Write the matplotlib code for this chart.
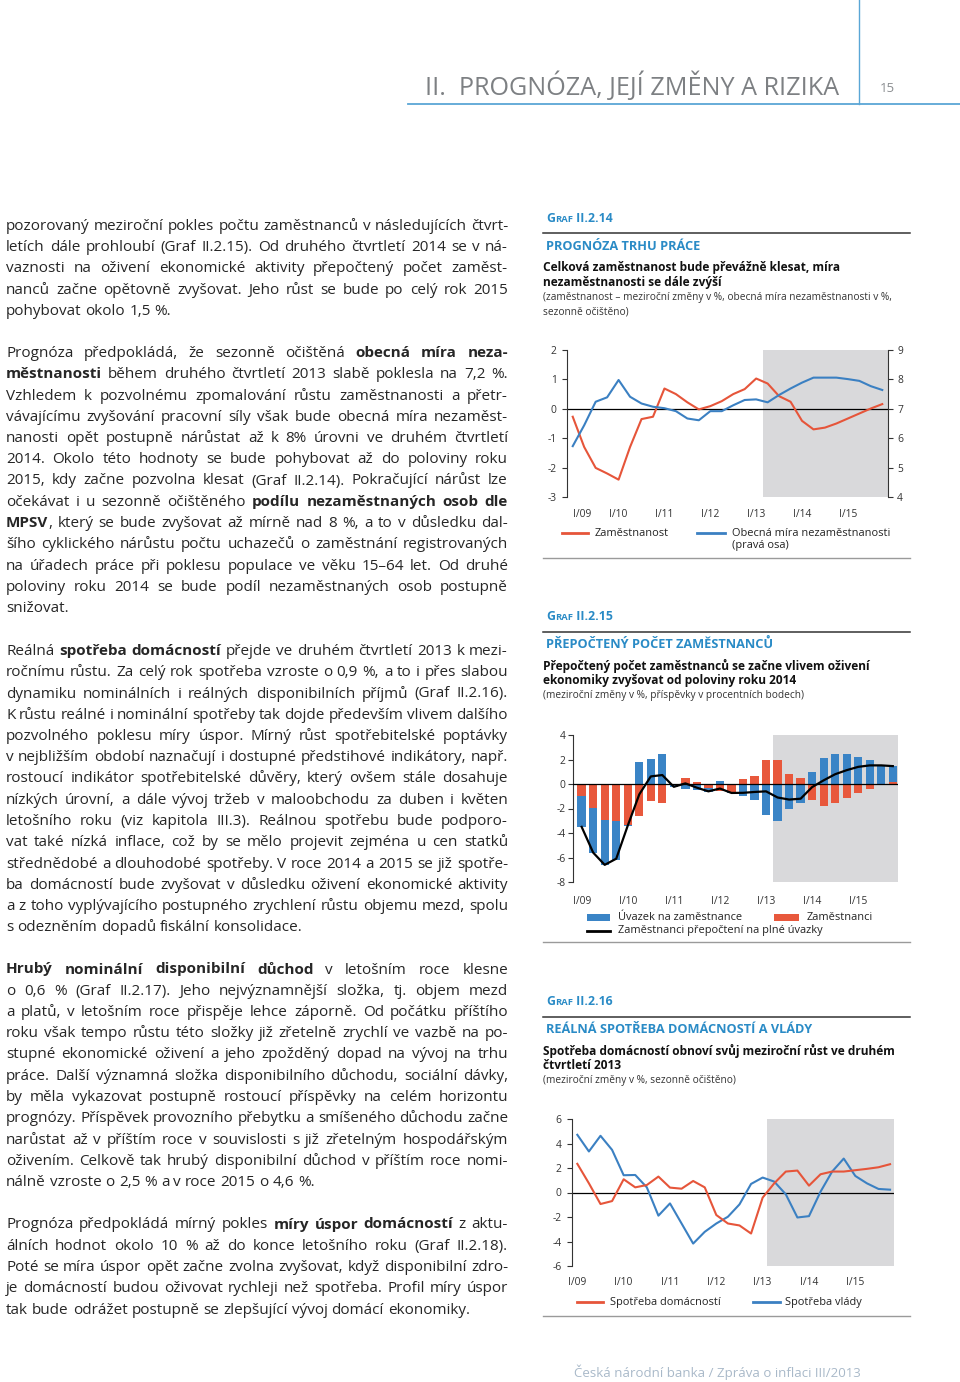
import matplotlib
matplotlib.use('Agg')
import matplotlib.pyplot as plt
from matplotlib.font_manager import FontProperties
from matplotlib.lines import Line2D
from matplotlib.patches import Rectangle
import numpy as np

FAMILY = ['Open Sans', 'DejaVu Sans']
plt.rcParams['font.family'] = FAMILY
plt.rcParams['axes.unicode_minus'] = False

# ---------------------------------------------------------------- data
quarters = np.arange(28)                       # I/09 ... IV/15
year_labels = ['I/09', 'I/10', 'I/11', 'I/12', 'I/13', 'I/14', 'I/15']
year_pos = [0, 4, 8, 12, 16, 20, 24]

# Graf II.2.14
employment = [-0.27, -1.30, -2.01, -2.20, -2.41, -1.30, -0.35, -0.27, 0.69, 0.50,
              0.22, -0.02, 0.09, 0.26, 0.50, 0.67, 1.03, 0.86, 0.43, 0.24,
              -0.41, -0.70, -0.64, -0.50, -0.33, -0.16, 0.01, 0.16]
unemployment_rate = [5.73, 6.44, 7.24, 7.39, 7.98, 7.41, 7.18, 7.07, 7.02, 6.92,
                     6.67, 6.61, 6.92, 6.92, 7.12, 7.30, 7.32, 7.22, 7.47, 7.69,
                     7.89, 8.06, 8.06, 8.06, 8.01, 7.95, 7.77, 7.64]

# Graf II.2.15
hours_per_employee = [-2.55, -3.68, -3.73, -3.17, -0.10, 1.81, 2.03, 2.42, -0.15, -0.37,
                      -0.50, -0.30, 0.22, -0.10, -1.00, -1.32, -2.55, -3.04, -2.06, -1.54,
                      0.95, 2.14, 2.44, 2.42, 2.20, 1.93, 1.49, 1.30]
employees = [-1.00, -1.95, -2.90, -3.00, -3.36, -2.63, -1.37, -1.54, -0.10, 0.45,
             0.15, -0.35, -0.60, -0.65, 0.37, 0.65, 2.00, 2.00, 0.78, 0.45,
             -1.27, -1.81, -1.54, -1.18, -0.72, -0.37, 0.02, 0.20]
fte_employees = [-3.50, -5.60, -6.60, -6.10, -3.40, -0.85, 0.62, 0.73, -0.23, 0.05,
                 -0.30, -0.60, -0.37, -0.73, -0.72, -0.65, -0.60, -1.10, -1.27, -1.20,
                 -0.25, 0.30, 0.80, 1.13, 1.40, 1.52, 1.52, 1.46]

# Graf II.2.16
cons_households = [2.34, 0.75, -0.94, -0.70, 1.08, 0.42, 0.61, 1.30, 0.40, 0.31,
                   0.94, 0.42, -1.84, -2.53, -2.69, -3.35, -0.42, 0.75, 1.71, 1.79,
                   0.56, 1.49, 1.71, 1.71, 1.82, 1.93, 2.06, 2.31]
cons_government = [4.71, 3.35, 4.63, 3.48, 1.41, 1.43, 0.42, -1.89, -0.89, -2.53,
                   -4.17, -3.21, -2.53, -1.98, -0.97, 0.70, 1.22, 0.89, -0.15, -2.04,
                   -1.93, 0.07, 1.71, 2.77, 1.35, 0.75, 0.29, 0.23]

# ---------------------------------------------------------------- text
para1 = [
    "pozorovaný meziroční pokles počtu zaměstnanců v následujících čtvrt-",
    "letích dále prohloubí (Graf II.2.15). Od druhého čtvrtletí 2014 se v ná-",
    "vaznosti na oživení ekonomické aktivity přepočtený počet zaměst-",
    "nanců začne opětovně zvyšovat. Jeho růst se bude po celý rok 2015",
    "pohybovat okolo 1,5 %.",
]
para2 = [
    "Prognóza předpokládá, že sezonně očištěná **obecná míra neza-**",
    "**městnanosti** během druhého čtvrtletí 2013 slabě poklesla na 7,2 %.",
    "Vzhledem k pozvolnému zpomalování růstu zaměstnanosti a přetr-",
    "vávajícímu zvyšování pracovní síly však bude obecná míra nezaměst-",
    "nanosti opět postupně nárůstat až k 8% úrovni ve druhém čtvrtletí",
    "2014. Okolo této hodnoty se bude pohybovat až do poloviny roku",
    "2015, kdy začne pozvolna klesat (Graf II.2.14). Pokračující nárůst lze",
    "očekávat i u sezonně očištěného **podílu nezaměstnaných osob dle**",
    "**MPSV**, který se bude zvyšovat až mírně nad 8 %, a to v důsledku dal-",
    "šího cyklického nárůstu počtu uchazečů o zaměstnání registrovaných",
    "na úřadech práce při poklesu populace ve věku 15–64 let. Od druhé",
    "poloviny roku 2014 se bude podíl nezaměstnaných osob postupně",
    "snižovat.",
]
para3 = [
    "Reálná **spotřeba domácností** přejde ve druhém čtvrtletí 2013 k mezi-",
    "ročnímu růstu. Za celý rok spotřeba vzroste o 0,9 %, a to i přes slabou",
    "dynamiku nominálních i reálných disponibilních příjmů (Graf II.2.16).",
    "K růstu reálné i nominální spotřeby tak dojde především vlivem dalšího",
    "pozvolného poklesu míry úspor. Mírný růst spotřebitelské poptávky",
    "v nejbližším období naznačují i dostupné předstihové indikátory, např.",
    "rostoucí indikátor spotřebitelské důvěry, který ovšem stále dosahuje",
    "nízkých úrovní, a dále vývoj tržeb v maloobchodu za duben i květen",
    "letošního roku (viz kapitola III.3). Reálnou spotřebu bude podporo-",
    "vat také nízká inflace, což by se mělo projevit zejména u cen statků",
    "střednědobé a dlouhodobé spotřeby. V roce 2014 a 2015 se již spotře-",
    "ba domácností bude zvyšovat v důsledku oživení ekonomické aktivity",
    "a z toho vyplývajícího postupného zrychlení růstu objemu mezd, spolu",
    "s odezněním dopadů fiskální konsolidace.",
]
para4 = [
    "**Hrubý nominální disponibilní důchod** v letošním roce klesne",
    "o 0,6 % (Graf II.2.17). Jeho nejvýznamnější složka, tj. objem mezd",
    "a platů, v letošním roce přispěje lehce záporně. Od počátku příštího",
    "roku však tempo růstu této složky již zřetelně zrychlí ve vazbě na po-",
    "stupné ekonomické oživení a jeho zpožděný dopad na vývoj na trhu",
    "práce. Další významná složka disponibilního důchodu, sociální dávky,",
    "by měla vykazovat postupně rostoucí příspěvky na celém horizontu",
    "prognózy. Příspěvek provozního přebytku a smíšeného důchodu začne",
    "narůstat až v příštím roce v souvislosti s již zřetelným hospodářským",
    "oživením. Celkově tak hrubý disponibilní důchod v příštím roce nomi-",
    "nálně vzroste o 2,5 % a v roce 2015 o 4,6 %.",
]
para5 = [
    "Prognóza předpokládá mírný pokles **míry úspor domácností** z aktu-",
    "álních hodnot okolo 10 % až do konce letošního roku (Graf II.2.18).",
    "Poté se míra úspor opět začne zvolna zvyšovat, když disponibilní zdro-",
    "je domácností budou oživovat rychleji než spotřeba. Profil míry úspor",
    "tak bude odrážet postupně se zlepšující vývoj domácí ekonomiky.",
]

# ---------------------------------------------------------------- style
W, H = 960, 1382
BODY = '#262626'
HEAD_BLUE = '#2a8bc6'
ORANGE = '#e6553a'
BLUE = '#3b80c2'
BAR_BLUE = '#3a84c6'
BAR_ORANGE = '#e8583c'
SHADE = '#d9d9db'
TICK = '#333333'

fig = plt.figure(figsize=(W / 100, H / 100), dpi=100)
fig.patch.set_facecolor('white')
R = fig.canvas.get_renderer()


def fp(size, weight='normal'):
    return FontProperties(family=FAMILY, size=size, weight=weight)


def tw(s, size, weight='normal'):
    w, h, d = R.get_text_width_height_descent(s, fp(size, weight), ismath=False)
    return w


def fit(s, target, weight='normal'):
    return 10.0 * target / tw(s, 10.0, weight)


def put(x, y, s, size, weight='normal', color=BODY, ha='left', va='center'):
    fig.text(x / W, 1 - y / H, s, fontsize=size, fontweight=weight,
             color=color, ha=ha, va=va)


def hline(x0, x1, y, color, lw):
    fig.add_artist(Line2D([x0 / W, x1 / W], [1 - y / H, 1 - y / H],
                          transform=fig.transFigure, color=color, lw=lw))


def vline(x, y0, y1, color, lw):
    fig.add_artist(Line2D([x / W, x / W], [1 - y0 / H, 1 - y1 / H],
                          transform=fig.transFigure, color=color, lw=lw))


def parse(line):
    words = [[]]
    for k, seg in enumerate(line.split('**')):
        bold = (k % 2 == 1)
        for j, p in enumerate(seg.split(' ')):
            if j > 0:
                words.append([])
            if p:
                words[-1].append((p, bold))
    return [w for w in words if w]


def paragraph(lines, y0, size, x0=6.0, x1=508.0, lh=21.25):
    sp = tw('x x', size) - tw('xx', size)
    for i, line in enumerate(lines):
        words = parse(line)
        widths = [sum(tw(t, size, 'bold' if b else 'normal') for t, b in w) for w in words]
        total = sum(widths)
        if i == len(lines) - 1 or len(words) == 1:
            gap = sp
        else:
            gap = (x1 - x0 - total) / (len(words) - 1)
        x = x0
        yb = y0 + i * lh + 5.0
        for w, wd in zip(words, widths):
            xx = x
            for t, b in w:
                weight = 'bold' if b else 'normal'
                fig.text(xx / W, 1 - yb / H, t, fontsize=size, fontweight=weight,
                         color=BODY, ha='left', va='baseline')
                xx += tw(t, size, weight)
            x += wd + gap


# body font size: natural width of the last line of para5 spans 6..478,
# then shrink so every justified line keeps a reasonable word gap
body_size = fit(para5[-1], 472)
maxr = 0
for para in (para1, para2, para3, para4, para5):
    for ln in para[:-1]:
        ws = parse(ln)
        sp = tw('x x', body_size) - tw('xx', body_size)
        w = sum(tw(t, body_size, 'bold' if b else 'normal') for wd in ws for t, b in wd)
        w += sp * 0.95 * (len(ws) - 1)
        maxr = max(maxr, w / 502.0)
if maxr > 1:
    body_size /= maxr

paragraph(para1, 225, body_size)
paragraph(para2, 352, body_size)
paragraph(para3, 650, body_size)
paragraph(para4, 968.5, body_size)
paragraph(para5, 1223.5, body_size)

# ---------------------------------------------------------------- page header / footer
hdr = "II.  PROGNÓZA, JEJÍ ZMĚNY A RIZIKA"
put(425, 86, hdr, fit(hdr, 412), color='#7d8083')
put(880, 88, "15", 9.5, color='#8a8d90')
vline(859, 0, 104, '#5aa6d6', 1.0)
hline(408, 960, 104, '#5aa6d6', 1.3)
foot = "Česká národní banka / Zpráva o inflaci III/2013"
put(574, 1372, foot, fit(foot, 284), color='#a9b9c9')

# ---------------------------------------------------------------- chart headers
title_size = fit("PROGNÓZA TRHU PRÁCE", 154, 'bold')
sub_size = fit("Celková zaměstnanost bude převážně klesat, míra", 297, 'bold')
small_size = fit("(zaměstnanost – meziroční změny v %, obecná míra nezaměstnanosti v %,", 347)


def graf_label(x, y, num):
    base = 10.0
    parts = [("G", base), ("RAF", base * 0.76), (" " + num, base)]
    tot = sum(tw(s, sz, 'bold') for s, sz in parts)
    k = 66.0 / tot
    xx = x
    for s, sz in parts:
        fig.text(xx / W, 1 - (y + 5) / H, s, fontsize=sz * k, fontweight='bold',
                 color=HEAD_BLUE, ha='left', va='baseline')
        xx += tw(s, sz * k, 'bold')


def chart_header(y_graf, num, title, sub_lines, small_lines):
    graf_label(546, y_graf, num)
    hline(543, 910, y_graf + 16.7, '#333333', 1.1)
    put(546, y_graf + 29.5, title, title_size, 'bold', HEAD_BLUE)
    y = y_graf + 51.2
    for s in sub_lines:
        put(543, y, s, sub_size, 'bold', '#111111')
        y += 14.6
    y += 0.4
    for s in small_lines:
        put(543, y, s, small_size, 'normal', '#333333')
        y += 14.0


chart_header(216.7, "II.2.14", "PROGNÓZA TRHU PRÁCE",
             ["Celková zaměstnanost bude převážně klesat, míra",
              "nezaměstnanosti se dále zvýší"],
             ["(zaměstnanost – meziroční změny v %, obecná míra nezaměstnanosti v %,",
              "sezonně očištěno)"])
chart_header(615, "II.2.15", "PŘEPOČTENÝ POČET ZAMĚSTNANCŮ",
             ["Přepočtený počet zaměstnanců se začne vlivem oživení",
              "ekonomiky zvyšovat od poloviny roku 2014"],
             ["(meziroční změny v %, příspěvky v procentních bodech)"])
chart_header(1000, "II.2.16", "REÁLNÁ SPOTŘEBA DOMÁCNOSTÍ A VLÁDY",
             ["Spotřeba domácností obnoví svůj meziroční růst ve druhém",
              "čtvrtletí 2013"],
             ["(meziroční změny v %, sezonně očištěno)"])

tick_size = fit("I/09", 18.5)
leg_size = fit("Zaměstnanost", 73)


def add_axes_px(x0, x1, ytop, ybot):
    return fig.add_axes([x0 / W, 1 - ybot / H, (x1 - x0) / W, (ybot - ytop) / H])


def style_axes(ax, xpad_pt, ypad_pt):
    for s in ('top', 'bottom', 'right'):
        ax.spines[s].set_visible(False)
    ax.spines['left'].set_color(TICK)
    ax.spines['left'].set_linewidth(0.8)
    ax.set_facecolor('none')
    ax.tick_params(axis='y', direction='out', length=3.5, width=0.8, color=TICK,
                   labelsize=tick_size, labelcolor=TICK, pad=ypad_pt)
    ax.tick_params(axis='x', length=0, labelsize=tick_size, labelcolor=TICK, pad=xpad_pt)
    ax.set_xticks(year_pos)
    ax.set_xticklabels(year_labels)


def legend_line(x0, x1, y, color, label, xt):
    hline(x0, x1, y, color, 2.0)
    put(xt, y, label, leg_size, color='#222222')


# ---------------------------------------------------------------- Graf II.2.14
ax1 = add_axes_px(567, 888, 350, 497)
ax1.set_xlim(-0.5, 27.5)
ax1.set_ylim(-3, 2)
ax1.set_yticks(np.arange(-3, 3, 1))
ax1.axvspan(16.6, 27.5, color=SHADE, lw=0, zorder=0)
ax1.axhline(0, color='black', lw=0.9, zorder=2)
ax1.plot(quarters, employment, color=ORANGE, lw=1.5, zorder=3)
style_axes(ax1, 9.0, 4.0)
ax1.get_xticklabels()[0].set_horizontalalignment('left')
ax1b = ax1.twinx()
ax1b.set_ylim(4, 9)
ax1b.set_yticks(np.arange(4, 10, 1))
ax1b.plot(quarters, unemployment_rate, color=BLUE, lw=1.5, zorder=3)
for s in ('top', 'bottom', 'left'):
    ax1b.spines[s].set_visible(False)
ax1b.spines['right'].set_color(TICK)
ax1b.spines['right'].set_linewidth(0.8)
ax1b.tick_params(axis='y', direction='out', length=3.5, width=0.8, color=TICK,
                 labelsize=tick_size, labelcolor=TICK, pad=3.0)

legend_line(562, 588, 533, ORANGE, "Zaměstnanost", 595)
legend_line(697, 725, 533, BLUE, "Obecná míra nezaměstnanosti", 732)
put(732, 545.5, "(pravá osa)", leg_size, color='#222222')
hline(543, 910, 558.3, '#9a9a9a', 1.0)

# ---------------------------------------------------------------- Graf II.2.15
ax2 = add_axes_px(573, 898, 735, 882)
ax2.set_xlim(-0.75, 27.45)
ax2.set_ylim(-8, 4)
ax2.set_yticks(np.arange(-8, 5, 2))
ax2.axvspan(16.6, 27.45, color=SHADE, lw=0, zorder=0)
z = np.array(employees)
u = np.array(hours_per_employee)
ax2.bar(quarters, z, width=0.72, color=BAR_ORANGE, zorder=2)
ax2.bar(quarters, u, width=0.72, bottom=np.where(np.sign(u) == np.sign(z), z, 0.0),
        color=BAR_BLUE, zorder=2)
ax2.axhline(0, color='black', lw=0.9, zorder=3)
ax2.plot(quarters, fte_employees, color='black', lw=1.6, zorder=4)
style_axes(ax2, 10.0, 2.0)

fig.add_artist(Rectangle((587 / W, 1 - 921 / H), 23 / W, 7 / H, transform=fig.transFigure,
                         color=BAR_BLUE, lw=0))
put(618, 917.3, "Úvazek na zaměstnance", leg_size, color='#222222')
fig.add_artist(Rectangle((773.5 / W, 1 - 921 / H), 25 / W, 7 / H, transform=fig.transFigure,
                         color=BAR_ORANGE, lw=0))
put(807, 917.3, "Zaměstnanci", leg_size, color='#222222')
legend_line(587, 610, 931, 'black', "Zaměstnanci přepočtení na plné úvazky", 618)
hline(543, 910, 941.7, '#9a9a9a', 1.0)

# ---------------------------------------------------------------- Graf II.2.16
ax3 = add_axes_px(572, 894, 1119, 1266)
ax3.set_xlim(-0.46, 27.34)
ax3.set_ylim(-6, 6)
ax3.set_yticks(np.arange(-6, 7, 2))
ax3.axvspan(16.4, 27.34, color=SHADE, lw=0, zorder=0)
ax3.axhline(0, color='black', lw=0.9, zorder=2)
ax3.plot(quarters, cons_government, color=BLUE, lw=1.5, zorder=3)
ax3.plot(quarters, cons_households, color=ORANGE, lw=1.5, zorder=4)
style_axes(ax3, 8.0, 4.0)

legend_line(577, 603, 1302.3, ORANGE, "Spotřeba domácností", 610)
legend_line(753, 780, 1302.3, BLUE, "Spotřeba vlády", 785)
hline(543, 910, 1316, '#9a9a9a', 1.0)

fig.savefig('out.png', dpi=100, facecolor='white')
